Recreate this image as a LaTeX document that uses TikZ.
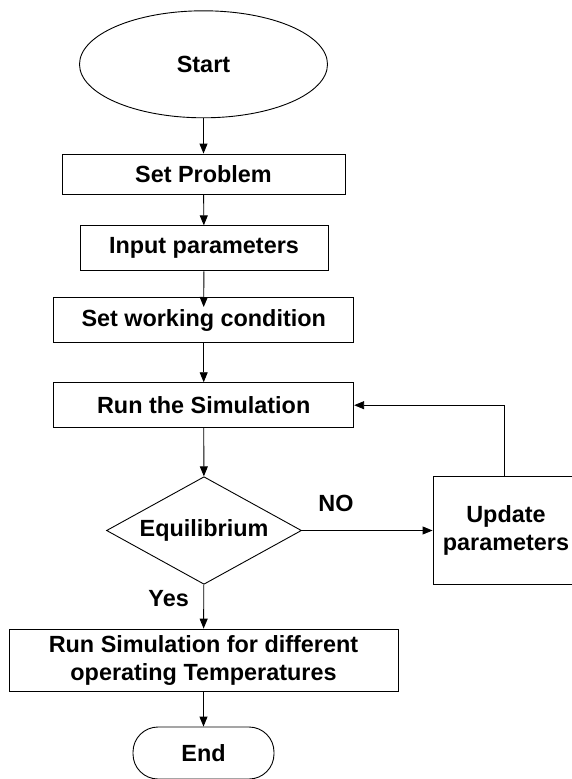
\documentclass[tikz,border=0pt]{standalone}
\usepackage{fontspec}
\setmainfont{Liberation Sans}
\usetikzlibrary{shapes.geometric,arrows.meta,scopes}

\tikzset{
  box/.style={draw,rectangle,inner sep=0pt,align=center},
  flow/.style={-{Triangle[length=10pt,width=8pt]}},
  tag/.style={inner sep=0pt},
}

\begin{document}
\begin{tikzpicture}[x=1pt,y=-1pt,line width=0.9pt,
    font=\fontsize{23.4}{28}\bfseries\selectfont]
  \useasboundingbox (0,0) rectangle (571,779);
  \node[draw,ellipse,inner sep=0pt,minimum width=248pt,minimum height=107pt] (start) at (203.5,64.3) {Start};
  \node[box,minimum width=283pt,minimum height=40pt] (setprob) at (203.5,174) {Set Problem};
  \node[box,minimum width=248pt,minimum height=45pt] (input) at (204,248.3) {Input parameters};
  \node[box,minimum width=300pt,minimum height=45pt] (setwork) at (203.7,320.2) {Set working condition};
  \node[box,minimum width=300pt,minimum height=45pt] (runsim) at (203.7,405.2) {Run the Simulation};
  \node[draw,diamond,inner sep=0pt,shape aspect=1.81,minimum width=195pt,minimum height=107.6pt] (equil) at (204,530.5) {Equilibrium};
  \node[box,minimum width=146pt,minimum height=107.3pt] (update) at (506,530.5) {Update\\parameters};
  \node[box,minimum width=389pt,minimum height=62.7pt] (final) at (203.5,660.4) {Run Simulation for different\\operating Temperatures};
  \node[box,rounded corners=25pt,minimum width=141pt,minimum height=52pt] (end) at (203.5,753) {End};
  \coordinate (intip) at (203.7,307);
  \coordinate (back) at (504,476.9);

  \node[tag] (no) at (336,503.3) {NO};
  \node[tag] (yes) at (168.6,598.5) {Yes};

  { [flow]
    \draw (start) -- (setprob);
    \draw (setprob) -- (input);
    \draw (input) -- (intip);
    \draw (setwork) -- (runsim);
    \draw (runsim) -- (equil);
    \draw (equil) -- (update);
    \draw (back) |- (runsim.east);
    \draw (equil) -- (final);
    \draw (final) -- (end);
  }
\end{tikzpicture}
\end{document}
